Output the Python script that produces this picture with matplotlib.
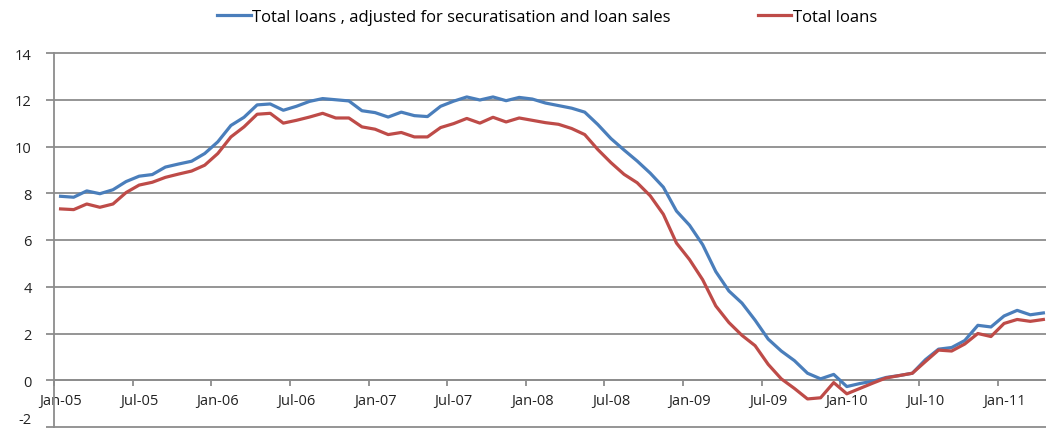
import matplotlib
matplotlib.use("Agg")
import matplotlib.pyplot as plt
import numpy as np
import pandas as pd

months = pd.date_range("2005-01-01", "2011-04-01", freq="MS")
month_labels = [d.strftime("%b-%y") for d in months]

adjusted = [7.87, 7.83, 8.10, 7.98, 8.15, 8.50, 8.73, 8.80, 9.12, 9.25, 9.37, 9.70,
            10.20, 10.90, 11.25, 11.78, 11.82, 11.55, 11.72, 11.93, 12.05, 12.00, 11.95, 11.53,
            11.45, 11.26, 11.47, 11.32, 11.28, 11.72, 11.94, 12.12, 11.99, 12.12, 11.96, 12.10,
            12.03, 11.86, 11.75, 11.64, 11.47, 10.94, 10.34, 9.85, 9.38, 8.86, 8.26, 7.24,
            6.63, 5.80, 4.65, 3.82, 3.30, 2.57, 1.76, 1.25, 0.84, 0.30, 0.06, 0.25,
            -0.27, -0.14, -0.04, 0.12, 0.20, 0.30, 0.88, 1.33, 1.40, 1.70, 2.35, 2.28,
            2.75, 2.99, 2.80, 2.88]

total = [7.33, 7.30, 7.54, 7.40, 7.54, 8.03, 8.35, 8.47, 8.68, 8.82, 8.95, 9.20,
         9.70, 10.41, 10.84, 11.38, 11.42, 11.00, 11.12, 11.26, 11.42, 11.22, 11.22, 10.84,
         10.74, 10.51, 10.60, 10.41, 10.41, 10.81, 10.98, 11.20, 11.00, 11.25, 11.05, 11.22,
         11.12, 11.02, 10.95, 10.77, 10.51, 9.87, 9.31, 8.81, 8.45, 7.89, 7.10, 5.87,
         5.16, 4.30, 3.18, 2.47, 1.92, 1.48, 0.68, 0.06, -0.35, -0.80, -0.75, -0.10,
         -0.58, -0.35, -0.12, 0.10, 0.20, 0.30, 0.80, 1.29, 1.25, 1.55, 2.00, 1.87,
         2.43, 2.60, 2.52, 2.60]

yticks = [-2, 0, 2, 4, 6, 8, 10, 12, 14]

BLUE = "#4A7EBB"
RED = "#BE4B48"
GRID = "#8C8C8C"
FONT = ["Open Sans", "DejaVu Sans"]
plt.rcParams["font.family"] = FONT

fig = plt.figure(figsize=(10.46, 4.35), dpi=100)
ax = fig.add_axes([54 / 1046, 7 / 435, 1 - 54 / 1046, 374 / 435])

x = np.arange(len(months))
ax.plot(x, adjusted, color=BLUE, lw=2.3, solid_joinstyle="round",
        label="Total loans , adjusted for securatisation and loan sales", zorder=3)
ax.plot(x, total, color=RED, lw=2.3, solid_joinstyle="round",
        label="Total loans", zorder=3)

ax.set_xlim(-0.5, 75.2)
ax.set_ylim(-2, 14)
ax.set_yticks(yticks)
ax.set_yticklabels([str(v) for v in yticks], fontsize=10.5, color="#222222")
for y in yticks:
    ax.axhline(y, color=GRID, lw=1.3, zorder=1, clip_on=False)
# keep the lowest label inside the picture
ax.get_yticklabels()[0].set_verticalalignment("bottom")

# category axis crossing at zero
ax.spines["bottom"].set_position(("data", 0))
ax.spines["bottom"].set_color(GRID)
ax.spines["bottom"].set_linewidth(1.3)
ax.spines["left"].set_color(GRID)
ax.spines["left"].set_linewidth(1.3)
ax.spines["top"].set_visible(False)
ax.spines["right"].set_visible(False)

major = np.arange(-0.5, len(months), 6)
ax.set_xticks(major)
ax.set_xticklabels([""] * len(major))
ax.tick_params(axis="x", which="major", direction="out", length=4, width=1.3, color=GRID)
minor = x[::6]
ax.set_xticks(minor, minor=True)
ax.set_xticklabels([month_labels[i] for i in minor], minor=True, fontsize=10.5, color="#222222")
ax.tick_params(axis="x", which="minor", length=0, pad=9)
ax.tick_params(axis="y", direction="out", length=6, width=1.3, color=GRID, pad=10)

fig.legend(loc="upper center", bbox_to_anchor=(0.523, 1.012), ncol=2, frameon=False,
           fontsize=12, handlelength=2.0, handletextpad=0.1, columnspacing=5.2)

fig.savefig("out.png", dpi=100)
